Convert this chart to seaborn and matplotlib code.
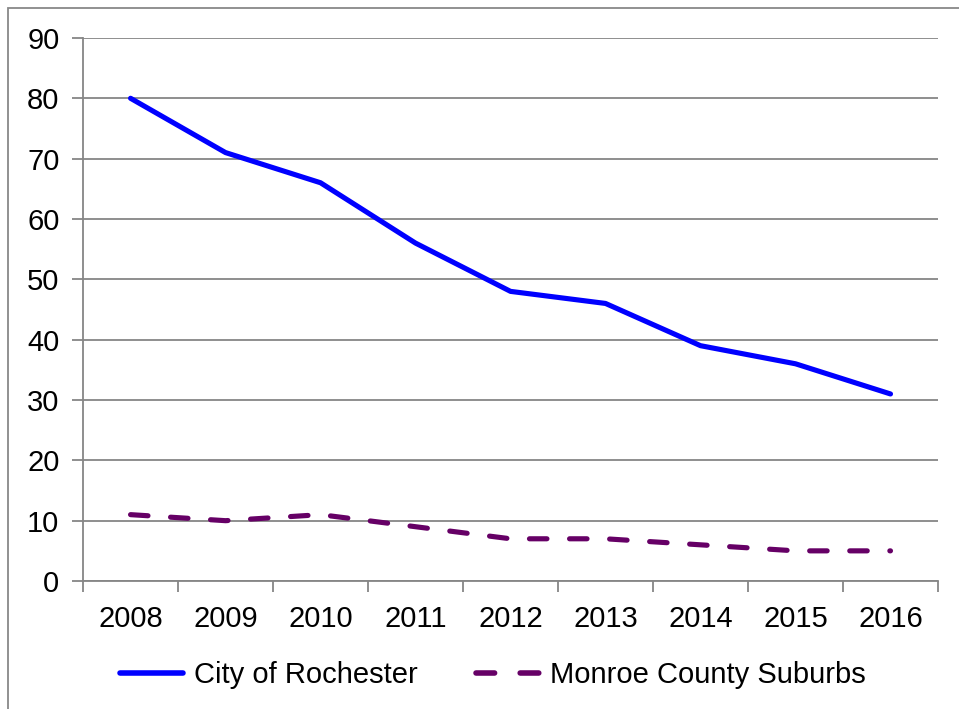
import matplotlib
matplotlib.use('Agg')
import matplotlib.pyplot as plt
import seaborn as sns
import pandas as pd
import numpy as np
from matplotlib.lines import Line2D

years = ['2008', '2009', '2010', '2011', '2012', '2013', '2014', '2015', '2016']
city = [80, 71, 66, 56, 48, 46, 39, 36, 31]
suburbs = [11, 10, 11, 9, 7, 7, 6, 5, 5]

sns.set_style("white")
plt.rcParams['font.family'] = ['Liberation Sans', 'DejaVu Sans']
plt.rcParams['text.color'] = 'black'
plt.rcParams['xtick.color'] = 'black'
plt.rcParams['ytick.color'] = 'black'

df = pd.DataFrame({'pos': np.arange(len(years)), 'city': city, 'suburbs': suburbs})

fig = plt.figure(figsize=(9.59, 7.09), dpi=100)
ax = fig.add_axes([0.0866, 0.1805, 0.8915, 0.766])

grid_c = '#868686'
fs = 21
sns.lineplot(x='pos', y='city', data=df, ax=ax, color='#0000FF', linewidth=3.7,
             solid_capstyle='round', label='City of Rochester')
sns.lineplot(x='pos', y='suburbs', data=df, ax=ax, color='#660066', linewidth=3.7,
             label='Monroe County Suburbs')
sub_line = ax.get_lines()[-1]
sub_line.set_dashes((3.4, 4.4))
sub_line.set_dash_capstyle('round')

ax.set_xlim(-0.5, len(years) - 0.5)
ax.set_ylim(0, 90)
ax.set_yticks(range(0, 91, 10))
ax.set_xticks(np.arange(len(years)))
ax.set_xticklabels(years)
ax.set_xticks(np.arange(len(years) + 1) - 0.5, minor=True)
ax.tick_params(bottom=True, left=True)
ax.tick_params(axis='x', which='major', length=0, pad=17, labelsize=fs, labelcolor='black')
ax.tick_params(axis='x', which='minor', bottom=True, length=8, width=1.3, color=grid_c, direction='out')
ax.tick_params(axis='y', length=8, width=1.3, color=grid_c, direction='out', pad=9,
               labelsize=fs, labelcolor='black')
ax.set_xlabel('')
ax.set_ylabel('')
ax.yaxis.grid(True, color=grid_c, linewidth=1.3)
ax.set_axisbelow(True)
for s in ['top', 'right']:
    ax.spines[s].set_visible(False)
for s in ['left', 'bottom']:
    ax.spines[s].set_color(grid_c)
    ax.spines[s].set_linewidth(1.3)

handles = [Line2D([], [], color='#0000FF', linewidth=4, solid_capstyle='round'),
           Line2D([], [], color='#660066', linewidth=4, dashes=(3.35, 4.6), dash_capstyle='round')]
ax.legend(handles, ['City of Rochester', 'Monroe County Suburbs'], loc='center',
          bbox_to_anchor=(0.514, 0.048), bbox_transform=fig.transFigure, ncol=2,
          frameon=False, fontsize=fs, handlelength=2.15, handletextpad=0.38, columnspacing=2.0)

# outer chart border
fig.add_artist(plt.Rectangle((8 / 959, -0.01), 1.0, 1.0 - 8 / 709 + 0.01, transform=fig.transFigure,
                             fill=False, edgecolor='#888888', linewidth=1.3))

fig.savefig('out.png', dpi=100)
